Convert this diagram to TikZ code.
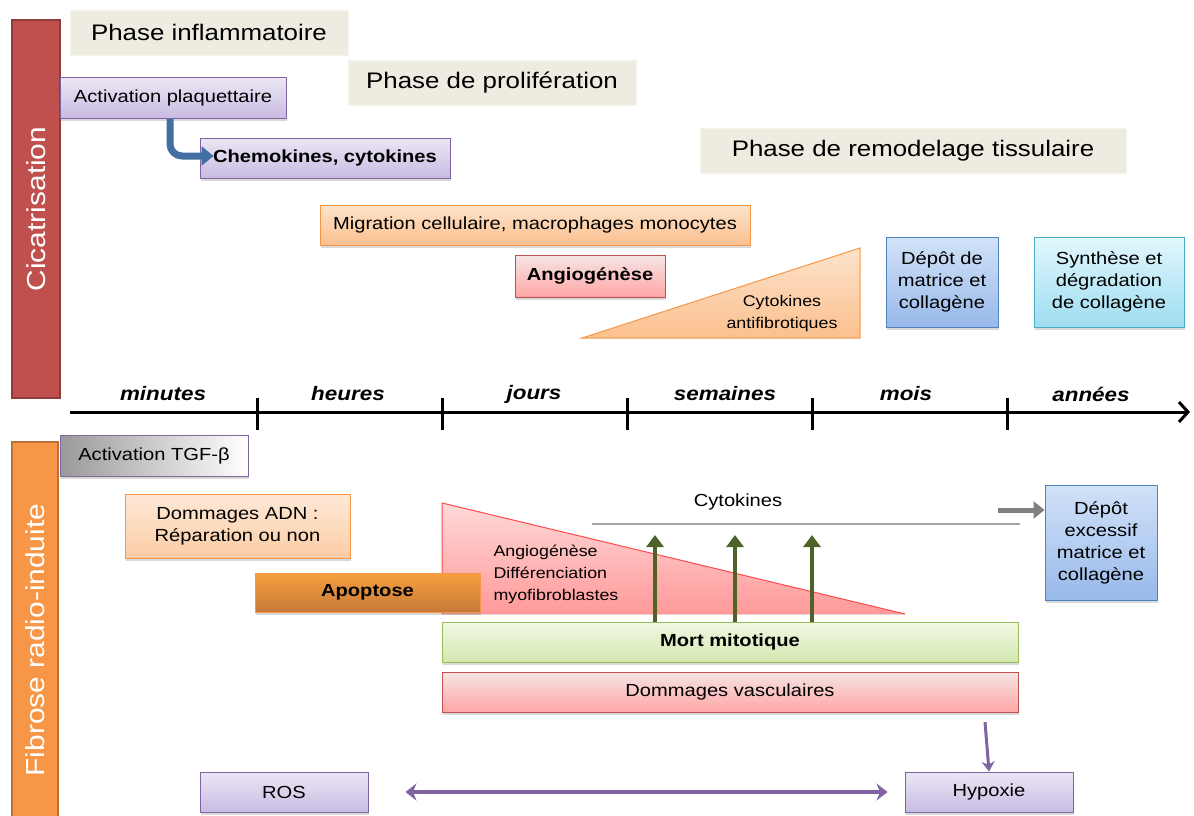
\documentclass[tikz,border=0pt]{standalone}
\usepackage{fontspec}
\setmainfont[FakeStretch=1.15]{Liberation Sans}
\usetikzlibrary{arrows.meta,shadows}
\definecolor{beige}{HTML}{EEECE1}
\definecolor{redbar}{HTML}{C0504D}
\definecolor{orangebar}{HTML}{F79646}
\definecolor{violet}{HTML}{8064A2}
\definecolor{bleu}{HTML}{4F81BD}
\definecolor{cyan}{HTML}{4BACC6}
\definecolor{vert}{HTML}{9BBB59}
\definecolor{olive}{HTML}{4F6228}
\definecolor{violettop}{HTML}{ECE7F5}
\definecolor{violetbot}{HTML}{C8BBE2}
\definecolor{bleutop}{HTML}{D2E2F8}
\definecolor{bleubot}{HTML}{98B9EA}
\definecolor{cyantop}{HTML}{E2F7FD}
\definecolor{cyanbot}{HTML}{9EDDF1}
\definecolor{verttop}{HTML}{F1F8E3}
\definecolor{vertbot}{HTML}{D3E8B0}
\definecolor{orangetop}{HTML}{FDE3CC}
\definecolor{orangebot}{HTML}{FBC08E}

\begin{document}
\begin{tikzpicture}[x=1pt,y=-1pt,
	box/.style={draw,line width=1pt,inner sep=2pt,align=center,
		font=\fontsize{17.5}{22}\selectfont,
		drop shadow={shadow xshift=1pt,shadow yshift=-2.5pt,opacity=.3}},
	phase/.style={fill=beige,draw=beige!60,inner sep=0pt,font=\fontsize{22.5}{26}\selectfont},
	bar/.style={rotate=90,line width=2pt,text=white,font=\fontsize{26}{30}\selectfont},
	violetbox/.style={box,draw=violet,top color=violettop,bottom color=violetbot},
	orangebox/.style={box,draw=orangebar,top color=orangetop,bottom color=orangebot},
	rougebox/.style={box,draw=redbar,top color=redbar!15,bottom color=red!35},
	bleubox/.style={box,draw=bleu,top color=bleutop,bottom color=bleubot},
	cyanbox/.style={box,draw=cyan,top color=cyantop,bottom color=cyanbot},
	vertbox/.style={box,draw=vert,top color=verttop,bottom color=vertbot},
	tlabel/.style={font=\fontsize{19.5}{22}\selectfont\bfseries\itshape},
	small/.style={font=\fontsize{15.5}{22}\selectfont},
	axis/.style={line width=3pt},
	violetarrow/.style={violet,line width=4pt,-{Stealth[length=11pt,width=17pt]}}]
	\useasboundingbox (0,0) rectangle (1194,816);

	\node[bar,fill=redbar,draw=redbar!75!black,minimum width=378,minimum height=48] (cica) at (36,209) {Cicatrisation};
	\node[bar,fill=orangebar,draw=orangebar!75!black,minimum width=396,minimum height=46] (fibro) at (35,640) {Fibrose radio-induite};

	\node[phase,minimum width=278,minimum height=45] (inflam) at (209,32.5) {Phase inflammatoire};
	\node[phase,minimum width=288,minimum height=45] (prolif) at (492,82.5) {Phase de prolifération};
	\node[phase,minimum width=426,minimum height=45] (remod) at (913,150.5) {Phase de remodelage tissulaire};

	\node[violetbox,minimum width=226,minimum height=40] (actplq) at (173,98) {Activation plaquettaire};
	\node[violetbox,minimum width=250,minimum height=40,font=\fontsize{17.5}{22}\selectfont\bfseries] (chemo) at (325,158) {Chemokines, cytokines};
	\coordinate (bend) at (170,156);
	\draw[bleu!85!black,line width=7pt,rounded corners=12pt,-{Triangle[length=12pt,width=19pt]}] (bend |- actplq.south) -- (bend) -- ([xshift=14pt]chemo.west |- bend);

	\node[orangebox,minimum width=430,minimum height=40] (migr) at (535,225) {Migration cellulaire, macrophages monocytes};
	\node[rougebox,minimum width=150,minimum height=42,font=\fontsize{17.5}{22}\selectfont\bfseries] (angio) at (590,276) {Angiogénèse};
	\draw[orangebar,line width=1pt,top color=orangetop,bottom color=orangebot] (582,338) -- (860,248) -- (860,338) -- cycle;
	\node[small,align=center] (antifib) at (782,313) {Cytokines\\antifibrotiques};
	\node[bleubox,minimum width=112,minimum height=90] (depmat) at (942,282) {Dépôt de\\matrice et\\collagène};
	\node[cyanbox,minimum width=150,minimum height=90] (synth) at (1109,282) {Synthèse et\\dégradation\\de collagène};

	\coordinate (axstart) at (70,412);
	\coordinate (axend) at (1190,412);
	\draw[axis,-{Straight Barb[length=9pt,width=20pt]}] (axstart) -- (axend);
	\foreach \xx in {257,442,627,812,1007}
		\draw[axis] (\xx,398) -- (\xx,430);
	\foreach \lab/\xx [count=\i] in {minutes/163,heures/348,jours/534,semaines/725,mois/906,années/1091}
		\node[tlabel] (tl\i) at (\xx,394) {\lab};

	\node[box,draw=violet,left color=black!40,right color=white,minimum width=188,minimum height=41] (tgf) at (154,455.5) {Activation TGF-β};
	\node[orangebox,top color=orangetop!80,bottom color=orangebot!80,minimum width=225,minimum height=64] (adn) at (237.5,526) {Dommages ADN :\\Réparation ou non};

	\fill[top color=red!15,bottom color=red!40] (442,503) -- (442,614) -- (905,614) -- cycle;
	\draw[red!70!white,line width=1pt] (905,614) -- (442,503) -- (442,614);
	\node[small,align=left,anchor=west] (myofib) at (490,574) {Angiogénèse\\Différenciation\\myofibroblastes};
	\node[box,draw=orangebar,top color=orangebar!90!yellow,bottom color=orangebar!80!black,minimum width=225,minimum height=39,font=\fontsize{17.5}{22}\selectfont\bfseries] (apop) at (367.5,592.5) {Apoptose};

	\coordinate (cytostart) at (592,524);
	\coordinate (cytoend) at (1020,524);
	\draw[black!35,line width=2.5pt] (cytostart) -- (cytoend);
	\node[font=\fontsize{17.5}{22}\selectfont] (cyto) at (738,502) {Cytokines};
	\node[bleubox,minimum width=112,minimum height=115] (depexc) at (1101,542.5) {Dépôt\\excessif\\matrice et\\collagène};
	\coordinate (grayarr) at (998,510);
	\draw[black!50,line width=5pt,-{Triangle[length=11pt,width=17pt]}] (grayarr) -- (grayarr -| depexc.west);

	\node[vertbox,minimum width=576,minimum height=40,font=\fontsize{17.5}{22}\selectfont\bfseries] (mort) at (730,642) {Mort mitotique};
	\foreach \xx [count=\i] in {655,735,812}{
		\coordinate (up\i) at (\xx,535);
		\draw[olive,line width=4pt,-{Triangle[length=12pt,width=17pt]}] (up\i |- mort.north) -- (up\i);
	}
	\node[rougebox,minimum width=576,minimum height=40] (vasc) at (730,692) {Dommages vasculaires};

	\node[violetbox,minimum width=168,minimum height=40] (ros) at (284,792) {ROS};
	\node[violetbox,minimum width=168,minimum height=40] (hypo) at (989,792) {Hypoxie};
	\coordinate (vascout) at (985,722);
	\draw[violetarrow,line width=3pt,-{Stealth[length=10pt,width=13pt]}] (vascout) -- (hypo.north);
	\draw[violetarrow,{Stealth[length=11pt,width=17pt]}-{Stealth[length=11pt,width=17pt]},shorten <=37pt,shorten >=17pt] (ros) -- (hypo);
\end{tikzpicture}
\end{document}
